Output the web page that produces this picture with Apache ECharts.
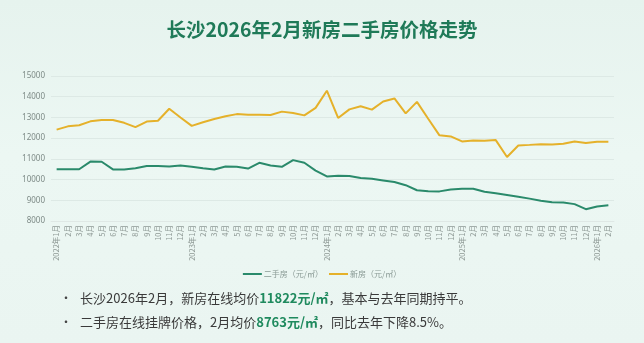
<!DOCTYPE html>
<html>
<head>
<meta charset="utf-8">
<script src="https://cdn.jsdelivr.net/npm/echarts@6/dist/echarts.min.js"></script>
<style>
  html, body { margin: 0; padding: 0; }
  body { width: 644px; height: 343px; background: linear-gradient(180deg, #e6f3ee 0%, #ecf7f3 45%, #eaf5f1 100%); }
  #chart { width: 644px; height: 343px; }
</style>
</head>
<body>
<div id="chart"></div>
<script>
// Monthly tick labels, Jan 2022 – Feb 2026
const months = [
  '2022年1月','2月','3月','4月','5月','6月','7月','8月','9月','10月','11月','12月',
  '2023年1月','2月','3月','4月','5月','6月','7月','8月','9月','10月','11月','12月',
  '2024年1月','2月','3月','4月','5月','6月','7月','8月','9月','10月','11月','12月',
  '2025年1月','2月','3月','4月','5月','6月','7月','8月','9月','10月','11月','12月',
  '2026年1月','2月'
];

// Second-hand listing price, 元/㎡
const resale = [
  10500, 10500, 10500, 10870, 10860, 10490, 10490, 10550, 10650, 10650, 10630, 10680,
  10620, 10550, 10490, 10630, 10615, 10530, 10810, 10680, 10615, 10940, 10810, 10435,
  10150, 10185, 10175, 10075, 10040, 9960, 9880, 9730, 9485, 9440, 9430, 9520,
  9555, 9555, 9410, 9340, 9260, 9175, 9080, 8980, 8900, 8890, 8815, 8570,
  8700, 8763
];

// New-home price, 元/㎡
const newHome = [
  12410, 12570, 12620, 12810, 12880, 12880, 12740, 12530, 12800, 12840, 13420, 13000,
  12590, 12770, 12920, 13060, 13160, 13130, 13130, 13115, 13280, 13215, 13100, 13460,
  14290, 12975, 13390, 13540, 13375, 13770, 13915, 13195, 13750, 12935, 12135, 12085,
  11840, 11890, 11870, 11905, 11090, 11645, 11675, 11710, 11690, 11725, 11840, 11760,
  11825, 11822
];

const yTicks = { min: 8000, max: 15000, interval: 1000 };

const GREEN = '#2a8a6b';
const GOLD = '#e5b12a';

const chart = echarts.init(document.getElementById('chart'), null, { renderer: 'canvas' });

const bodyText = {
  t: { fontFamily: 'Noto Sans CJK SC', fontSize: 13, fill: '#3a3a3a' },
  b: { fontFamily: 'Noto Sans CJK SC', fontSize: 13, fontWeight: 'bold', fill: '#1f8a5e' }
};

chart.setOption({
  backgroundColor: 'transparent',
  animation: false,
  title: {
    text: '长沙2026年2月新房二手房价格走势',
    left: 'center',
    top: 15,
    textStyle: {
      fontFamily: 'Noto Sans CJK SC',
      fontSize: 19.5,
      fontWeight: 'bold',
      color: '#1f7a58'
    }
  },
  legend: {
    top: 265,
    left: 'center',
    itemWidth: 19,
    itemHeight: 2,
    itemGap: 6,
    icon: 'rect',
    textStyle: { fontFamily: 'Noto Sans CJK SC', fontSize: 8, color: '#8a9a95', padding: [0, 0, 0, -3] },
    data: ['二手房（元/㎡）', '新房（元/㎡）']
  },
  grid: { left: 51, right: 30, top: 76, bottom: 122 },
  xAxis: {
    type: 'category',
    data: months,
    boundaryGap: true,
    axisLine: { lineStyle: { color: '#dfe8e5' } },
    axisTick: { show: false },
    axisLabel: {
      interval: 0,
      rotate: 90,
      fontFamily: 'Noto Sans CJK SC',
      fontSize: 7.5,
      color: '#8e9995',
      margin: 4
    }
  },
  yAxis: {
    type: 'value',
    min: yTicks.min,
    max: yTicks.max,
    interval: yTicks.interval,
    axisLine: { show: false },
    axisTick: { show: false },
    splitLine: { lineStyle: { color: '#dde9e5', width: 1 } },
    axisLabel: {
      fontFamily: 'Noto Sans',
      fontSize: 8,
      color: '#7d8a86',
      margin: 6,
      formatter: (v) => String(v)
    }
  },
  series: [
    {
      name: '二手房（元/㎡）',
      type: 'line',
      data: resale,
      showSymbol: false,
      lineStyle: { color: GREEN, width: 2 },
      itemStyle: { color: GREEN }
    },
    {
      name: '新房（元/㎡）',
      type: 'line',
      data: newHome,
      showSymbol: false,
      lineStyle: { color: GOLD, width: 2 },
      itemStyle: { color: GOLD }
    }
  ],
  graphic: [
    {
      type: 'text',
      left: 60,
      top: 292,
      style: {
        text: '•   {t|长沙2026年2月，新房在线均价}{b|11822元/㎡}{t|，基本与去年同期持平。}',
        fontFamily: 'Noto Sans CJK SC',
        fontSize: 12,
        fill: '#444',
        rich: bodyText
      }
    },
    {
      type: 'text',
      left: 60,
      top: 316,
      style: {
        text: '•   {t|二手房在线挂牌价格，2月均价}{b|8763元/㎡}{t|，同比去年下降8.5%。}',
        fontFamily: 'Noto Sans CJK SC',
        fontSize: 12,
        fill: '#444',
        rich: bodyText
      }
    }
  ]
});
</script>
</body>
</html>
